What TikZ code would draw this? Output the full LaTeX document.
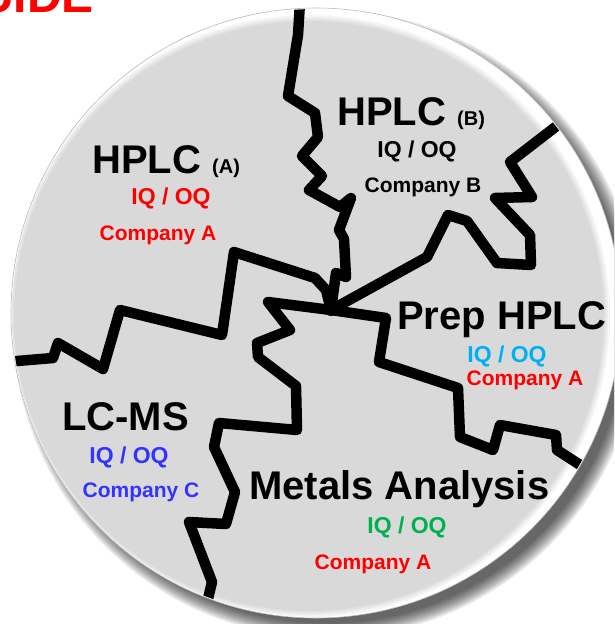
\documentclass[tikz,border=0pt]{standalone}
\usepackage{fontspec}
\setmainfont{Liberation Sans}
\definecolor{discgray}{RGB}{217,217,217}
\definecolor{iqcyan}{RGB}{0,176,240}
\definecolor{iqblue}{RGB}{51,51,255}
\definecolor{iqgreen}{RGB}{0,176,80}
\tikzset{
  border/.style={line width=10.5pt, line join=round},
  area/.style={inner sep=0pt, anchor=base west, font=\bfseries\fontsize{40}{44}\selectfont},
  qual/.style={inner sep=0pt, anchor=base, font=\bfseries\fontsize{23}{26}\selectfont},
  firm/.style={inner sep=0pt, anchor=base, font=\bfseries\fontsize{21}{24}\selectfont}
}

\begin{document}
\begin{tikzpicture}[x=1pt,y=-1pt]
  \useasboundingbox (0,0) rectangle (614,624);
  \clip (0,0) rectangle (614,624);

  % Title, cut off at the top
  \node[anchor=base east, inner sep=0pt, text=red, font=\bfseries\fontsize{48}{52}\selectfont] (title) at (94,12) {UIDE};

  % Shadow of the disc
  \foreach \i in {0,...,9}
    \fill[black, opacity=0.085] (327,324) circle (314-\i*1.6);

  % White disc with the gray face
  \fill[white] (316,313) circle (305);
  \draw[gray!55, line width=0.6pt] (316,313) circle (305);
  \begin{scope}
    \clip (316,313) circle (304);
    \foreach \r/\c in {301/25,299/50,297/75,295/100}
      \fill[discgray!\c] (309,316) circle (\r);

    % Borders between the areas
    \coordinate (hub) at (331,310);
    \draw[border] (300,2) -- (298,35) -- (288,96) -- (315,113) -- (318,137) -- (302,156)
      -- (322,176) -- (309,190) -- (340,207) -- (351,198) -- (339,230) -- (344,239)
      -- (346,277) -- (336,273) -- (hub);
    \draw[border] (5,362) -- (53,358) -- (58,343) -- (103,369) -- (120,310) -- (222,335)
      -- (234,252) -- (315,278) -- (326,290) -- (hub);
    \draw[border] (hub) -- (268,302) -- (290,330) -- (257,343) -- (258,357) -- (296,386)
      -- (297,430) -- (219,423) -- (214,447) -- (235,492) -- (226,524) -- (189,522)
      -- (212,582) -- (203,620);
    \draw[border] (hub) -- (386,318) -- (379,362) -- (458,388) -- (460,437) -- (493,450)
      -- (500,425) -- (556,435) -- (557,450) -- (605,481);
    \draw[border] (hub) -- (427,257) -- (448,215) -- (467,221) -- (497,263) -- (531,265)
      -- (530,235) -- (495,198) -- (532,197) -- (510,162) -- (580,108);
    \fill (hub) circle (6);
  \end{scope}

  % HPLC (A)
  \node[area] (hplcA) at (92,173) {HPLC {\fontsize{20}{22}\selectfont(A)}};
  \node[qual, text=red] (hplcAq) at (171,204) {IQ / OQ};
  \node[firm, text=red] (hplcAc) at (158,240) {Company A};

  % HPLC (B)
  \node[area] (hplcB) at (337,125) {HPLC {\fontsize{20}{22}\selectfont(B)}};
  \node[qual] (hplcBq) at (417,157) {IQ / OQ};
  \node[firm] (hplcBc) at (423,192) {Company B};

  % Prep HPLC
  \node[area] (prep) at (397,329) {Prep HPLC};
  \node[qual, text=iqcyan] (prepq) at (507,362) {IQ / OQ};
  \node[firm, text=red] (prepc) at (525,385) {Company A};

  % LC-MS
  \node[area] (lcms) at (62,430) {LC-MS};
  \node[qual, text=iqblue] (lcmsq) at (129,463) {IQ / OQ};
  \node[firm, text=iqblue] (lcmsc) at (141,497) {Company C};

  % Metals Analysis
  \node[area] (metals) at (249,499) {Metals Analysis};
  \node[qual, text=iqgreen] (metalsq) at (407,533) {IQ / OQ};
  \node[firm, text=red] (metalsc) at (373,569) {Company A};
\end{tikzpicture}
\end{document}
